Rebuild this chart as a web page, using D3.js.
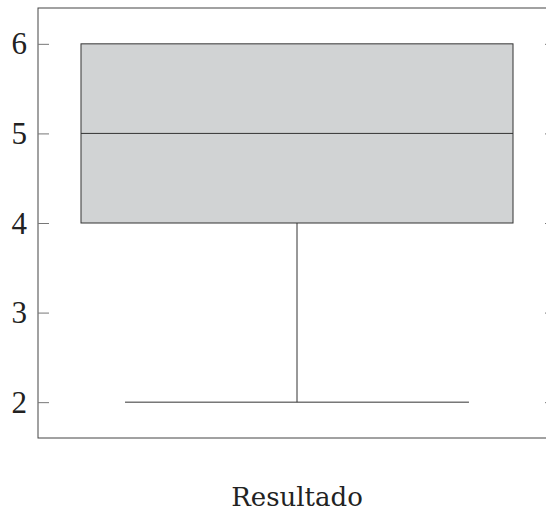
<!DOCTYPE html>
<html>
<head>
  <meta charset="UTF-8">
  <title>Resultado</title>
  <script src="https://d3js.org/d3.v7.min.js"></script>
  <style>
    body { margin: 0; background: #fff; overflow: hidden; }
  </style>
</head>
<body>
  <div id="chart"></div>
  <script>
    // box plot values
    const categories = ["Resultado"];
    const lowerWhisker = [2];
    const lowerQuartile = [4];
    const median = [5];
    const upperQuartile = [6];
    const upperWhisker = [6];
    const yTicks = [2, 3, 4, 5, 6];

    const W = 546, H = 514;
    const svg = d3.select("#chart").append("svg")
      .attr("width", W).attr("height", H)
      .style("display", "block");

    const margin = { left: 38, right: 556, top: 8, bottom: 438 };

    const x = d3.scaleBand()
      .domain(categories)
      .range([margin.left, margin.right])
      .paddingInner(0).paddingOuter(0);

    const y = d3.scaleLinear()
      .domain([1.6, 6.4])
      .range([margin.bottom, margin.top]);

    const bw = x.bandwidth();
    const boxFrac = 0.834, capFrac = 0.664;

    categories.forEach((c, i) => {
      const cx = x(c) + bw / 2;
      const g = svg.append("g");
      // whisker lines
      g.append("line")
        .attr("x1", cx).attr("x2", cx)
        .attr("y1", y(lowerWhisker[i])).attr("y2", y(lowerQuartile[i]))
        .attr("stroke", "#333").attr("stroke-width", 1);
      g.append("line")
        .attr("x1", cx).attr("x2", cx)
        .attr("y1", y(upperWhisker[i])).attr("y2", y(upperQuartile[i]))
        .attr("stroke", "#333").attr("stroke-width", 1);
      // caps
      [lowerWhisker[i], upperWhisker[i]].forEach(v => {
        if (v === lowerQuartile[i] || v === upperQuartile[i]) return;
        g.append("line")
          .attr("x1", cx - bw * capFrac / 2).attr("x2", cx + bw * capFrac / 2)
          .attr("y1", y(v)).attr("y2", y(v))
          .attr("stroke", "#333").attr("stroke-width", 1);
      });
      // box
      g.append("rect")
        .attr("x", cx - bw * boxFrac / 2)
        .attr("y", y(upperQuartile[i]))
        .attr("width", bw * boxFrac)
        .attr("height", y(lowerQuartile[i]) - y(upperQuartile[i]))
        .attr("fill", "#d1d3d4")
        .attr("stroke", "#333").attr("stroke-width", 1);
      g.append("line")
        .attr("x1", cx - bw * boxFrac / 2).attr("x2", cx + bw * boxFrac / 2)
        .attr("y1", y(median[i])).attr("y2", y(median[i]))
        .attr("stroke", "#333").attr("stroke-width", 1);
    });

    // frame
    svg.append("rect")
      .attr("x", margin.left).attr("y", margin.top)
      .attr("width", margin.right - margin.left).attr("height", margin.bottom - margin.top)
      .attr("fill", "none").attr("stroke", "#444").attr("stroke-width", 1);

    // y axis ticks (inward, both sides)
    const yAxis = svg.append("g").attr("transform", `translate(${margin.left},0)`)
      .call(d3.axisRight(y).tickValues(yTicks).tickSize(11).tickFormat(""));
    yAxis.select(".domain").remove();
    yAxis.selectAll("line").attr("stroke", "#777");
    const yAxisR = svg.append("g").attr("transform", `translate(${margin.right},0)`)
      .call(d3.axisLeft(y).tickValues(yTicks).tickSize(11).tickFormat(""));
    yAxisR.select(".domain").remove();
    yAxisR.selectAll("line").attr("stroke", "#777");

    svg.selectAll(".ylab").data(yTicks).enter().append("text")
      .attr("x", margin.left - 11)
      .attr("y", d => y(d))
      .attr("dy", "0.34em")
      .attr("text-anchor", "end")
      .style("font-family", "'Liberation Serif', serif")
      .style("font-size", "31px")
      .style("fill", "#222")
      .text(d => d);

    svg.append("text")
      .attr("x", (margin.left + margin.right) / 2)
      .attr("y", 506)
      .attr("text-anchor", "middle")
      .style("font-family", "'DejaVu Serif', serif")
      .style("font-size", "26px")
      .style("fill", "#222")
      .text(categories[0]);
  </script>
</body>
</html>
